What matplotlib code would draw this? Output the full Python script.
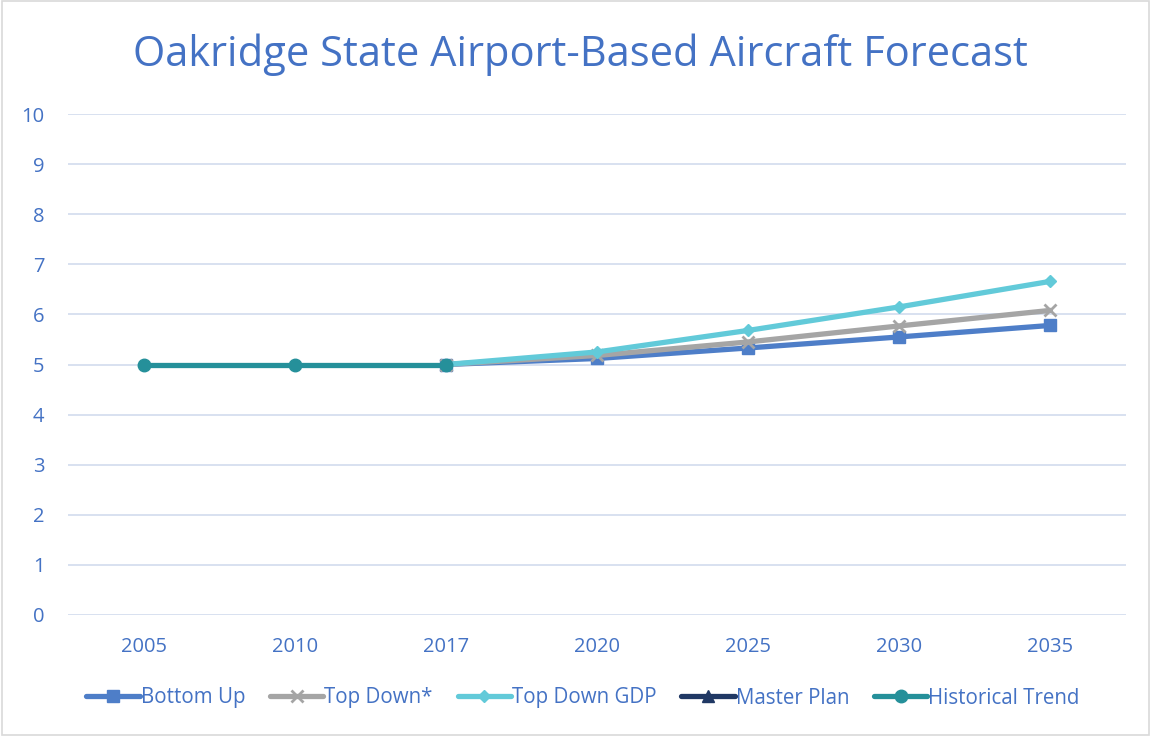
import matplotlib
matplotlib.use("Agg")
import matplotlib.pyplot as plt
import numpy as np
from matplotlib.patches import Rectangle

plt.rcParams['font.family'] = ['Open Sans', 'DejaVu Sans']

categories = ['2005', '2010', '2017', '2020', '2025', '2030', '2035']
bottom_up = [np.nan, np.nan, 5.0, 5.12, 5.33, 5.55, 5.78]
top_down = [np.nan, np.nan, 5.0, 5.18, 5.45, 5.77, 6.08]
top_down_gdp = [np.nan, np.nan, 5.0, 5.25, 5.68, 6.15, 6.66]
master_plan = [np.nan] * 7
historical = [5.0, 5.0, 5.0, np.nan, np.nan, np.nan, np.nan]

series = [
    ('Bottom Up', bottom_up, '#4E7EC8', 's', 9),
    ('Top Down*', top_down, '#A5A5A5', 'x', 8),
    ('Top Down GDP', top_down_gdp, '#62CAD9', 'D', 6.5),
    ('Master Plan', master_plan, '#203864', '^', 8),
    ('Historical Trend', historical, '#25909A', 'o', 9),
]

text_color = '#4472C4'

fig = plt.figure(figsize=(11.51, 7.36), dpi=100)
ax = fig.add_axes([68/1151, 1-615/736, (1126-68)/1151, (615-114)/736])

x = np.arange(len(categories))
for name, vals, color, marker, ms in series:
    ax.plot(x, vals, color=color, lw=3.8, marker=marker, markersize=ms,
            markeredgewidth=2 if marker == 'x' else 1, markeredgecolor=color,
            label=name, solid_capstyle='round')

ax.set_xlim(-0.5, len(categories) - 0.5)
ax.set_ylim(0, 10)
ax.set_yticks(range(0, 11))
ax.set_xticks(x)
ax.set_xticklabels(categories)
ax.grid(axis='y', color='#D6DEEF', lw=1.3)
ax.set_axisbelow(True)
for s in ax.spines.values():
    s.set_visible(False)
ax.tick_params(axis='both', length=0, labelsize=14.5, labelcolor=text_color)
ax.tick_params(axis='x', pad=16)
ax.tick_params(axis='y', pad=17)

fig.text(580/1151, 1-55/736, 'Oakridge State Airport-Based Aircraft Forecast',
         ha='center', va='center', fontsize=30, color=text_color)

leg = fig.legend(loc='center', bbox_to_anchor=(583/1151, 1-698/736), ncol=5,
                 frameon=False, fontsize=14.8, handlelength=2.6, handletextpad=0.05,
                 columnspacing=1.2, labelcolor=text_color)

fig.patches.append(Rectangle((0.002, 0.002), 0.996, 0.996, transform=fig.transFigure,
                             fill=False, edgecolor='#D9D9D9', lw=1.2))

fig.savefig('out.png', dpi=100)
